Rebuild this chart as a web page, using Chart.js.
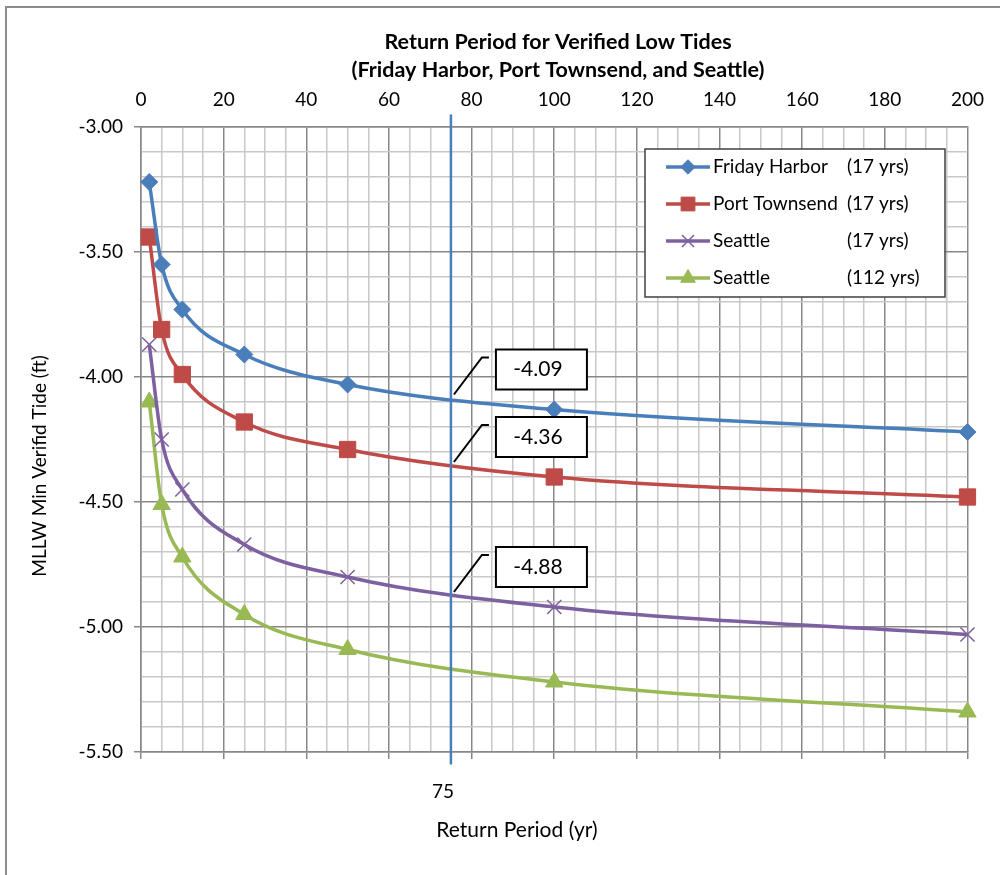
<!DOCTYPE html>
<html><head><meta charset="utf-8">
<script src="https://cdn.jsdelivr.net/npm/chart.js@4.4.0/dist/chart.umd.min.js"></script>
<style>html,body{margin:0;padding:0;background:#fff;} #wrap{width:1000px;height:875px;position:relative;}</style>
</head><body><div id="wrap"><canvas id="c" width="1000" height="875"></canvas></div>
<script>
const returnPeriods = [2, 5, 10, 25, 50, 100, 200];
const fridayHarbor = [-3.22, -3.55, -3.73, -3.91, -4.03, -4.13, -4.22];
const portTownsend = [-3.44, -3.81, -3.99, -4.18, -4.29, -4.40, -4.48];
const seattle17 = [-3.87, -4.25, -4.45, -4.67, -4.80, -4.92, -5.03];
const seattle112 = [-4.10, -4.51, -4.72, -4.95, -5.09, -5.22, -5.34];
const seriesNames = ['Friday Harbor', 'Port Townsend', 'Seattle', 'Seattle'];
const seriesYears = ['(17 yrs)', '(17 yrs)', '(17 yrs)', '(112 yrs)'];
const markerYear = 75;
const markerLineY = [-2.95, -5.55];
const calloutValues = [-4.09, -4.36, -4.88];
const titleLines = ['Return Period for Verified Low Tides', '(Friday Harbor, Port Townsend, and Seattle)'];
const xAxisTitle = 'Return Period (yr)';
const yAxisTitle = 'MLLW Min Verifid Tide (ft)';

const FONT = 'Lato, "Noto Sans", sans-serif';
const colors = ['#4A7EBB', '#BE4B48', '#7D60A0', '#98B954'];
const styles = ['rectRot', 'rect', 'crossRot', 'triangle'];
const radii = [8.5, 11.5, 10, 10];
const seriesData = [fridayHarbor, portTownsend, seattle17, seattle112];

const datasets = seriesData.map((vals, i) => ({
  label: seriesNames[i] + ' ' + seriesYears[i],
  data: returnPeriods.map((x, j) => ({x: x, y: vals[j]})),
  borderColor: colors[i],
  backgroundColor: colors[i],
  pointBackgroundColor: colors[i],
  pointBorderColor: colors[i],
  pointStyle: styles[i],
  pointRadius: radii[i],
  pointHoverRadius: radii[i],
  pointBorderWidth: styles[i] === 'crossRot' ? 1.5 : 1,
  borderWidth: 3.5,
  cubicInterpolationMode: 'monotone',
  clip: false,
  order: 1 + i
}));
datasets.unshift({
  label: 'marker',
  data: markerLineY.map(y => ({x: markerYear, y: y})),
  borderColor: '#4A7EBB',
  borderWidth: 2.5,
  pointRadius: 0,
  clip: false,
  order: 0
});

const isMajorX = v => Math.abs(v % 20) < 1e-6;
const isMajorY = v => Math.abs(v * 2 - Math.round(v * 2)) < 1e-6;

const decor = {
  id: 'decor',
  beforeDraw(chart) {
    const ctx = chart.ctx;
    ctx.save();
    ctx.fillStyle = '#fff';
    ctx.fillRect(0, 0, chart.width, chart.height);
    ctx.strokeStyle = '#8c8c8c';
    ctx.lineWidth = 2;
    ctx.beginPath();
    ctx.moveTo(6, 876); ctx.lineTo(6, 7); ctx.lineTo(1001, 7);
    ctx.stroke();
    ctx.restore();
  },
  afterDatasetsDraw(chart) {
    const ctx = chart.ctx;
    const xs = chart.scales.x, ys = chart.scales.y;
    ctx.save();
    // callouts
    calloutValues.forEach(v => {
      const px = xs.getPixelForValue(markerYear);
      const py = ys.getPixelForValue(v);
      ctx.strokeStyle = '#000';
      ctx.lineWidth = 2;
      ctx.beginPath();
      ctx.moveTo(px + 3, py - 5);
      ctx.lineTo(px + 31, py - 42);
      ctx.lineTo(px + 38, py - 42);
      ctx.stroke();
      ctx.fillStyle = '#fff';
      ctx.fillRect(px + 45, py - 50, 91, 40);
      ctx.strokeRect(px + 45, py - 50, 91, 40);
      ctx.fillStyle = '#000';
      ctx.font = '21px ' + FONT;
      ctx.textAlign = 'center';
      ctx.textBaseline = 'middle';
      ctx.fillText(v.toFixed(2), px + 87, py - 30);
    });
    // legend
    const lx = 645, ly = 149, lw = 300, lh = 148;
    ctx.fillStyle = '#fff';
    ctx.fillRect(lx, ly, lw, lh);
    ctx.strokeStyle = '#404040';
    ctx.lineWidth = 1.5;
    ctx.strokeRect(lx, ly, lw, lh);
    ctx.font = '19px ' + FONT;
    ctx.textBaseline = 'middle';
    ctx.textAlign = 'left';
    seriesNames.forEach((name, i) => {
      const cy = ly + 18 + i * 37;
      ctx.strokeStyle = colors[i];
      ctx.lineWidth = 3.5;
      ctx.beginPath();
      ctx.moveTo(lx + 21, cy); ctx.lineTo(lx + 65, cy);
      ctx.stroke();
      ctx.fillStyle = colors[i];
      ctx.strokeStyle = colors[i];
      ctx.lineWidth = styles[i] === 'crossRot' ? 1.5 : 1;
      Chart.helpers.drawPoint(ctx, {pointStyle: styles[i], radius: radii[i] * 0.85, rotation: 0, borderWidth: ctx.lineWidth}, lx + 43, cy);
      ctx.fillStyle = '#000';
      ctx.fillText(name, lx + 68, cy);
      const nameEnd = lx + 68 + ctx.measureText(name + ' ').width;
      ctx.fillText(seriesYears[i], Math.max(lx + 202, nameEnd), cy);
    });
    ctx.restore();
  },
  afterDraw(chart) {
    const ctx = chart.ctx;
    const xs = chart.scales.x;
    ctx.save();
    ctx.fillStyle = '#000';
    ctx.textAlign = 'center';
    ctx.textBaseline = 'middle';
    ctx.font = 'bold 21.5px ' + FONT;
    ctx.fillText(titleLines[0], 558, 42);
    ctx.fillText(titleLines[1], 558, 70);
    ctx.font = '19px ' + FONT;
    ctx.fillText(String(markerYear), xs.getPixelForValue(markerYear) - 8, 792);
    ctx.font = '21px ' + FONT;
    ctx.fillText(xAxisTitle, 517, 830);
    ctx.font = '19px ' + FONT;
    ctx.translate(40, 466);
    ctx.rotate(-Math.PI / 2);
    ctx.fillText(yAxisTitle, 0, 0);
    ctx.restore();
  }
};

new Chart(document.getElementById('c'), {
  type: 'line',
  data: {datasets},
  plugins: [decor],
  options: {
    responsive: false,
    animation: false,
    events: [],
    layout: {padding: {left: 0, right: 30, top: 0, bottom: 0}},
    plugins: {legend: {display: false}, tooltip: {enabled: false}, title: {display: false}},
    scales: {
      x: {
        type: 'linear', position: 'top', min: 0, max: 200,
        afterFit: s => { s.height = 127; },
        ticks: {stepSize: 5, autoSkip: false, maxRotation: 0, padding: 16, color: '#000',
          font: {family: FONT, size: 19},
          callback: v => isMajorX(v) ? String(v) : ''},
        grid: {drawTicks: false, lineWidth: 1.5,
          color: c => isMajorX(c.tick.value) ? '#888888' : '#c8c8c8'},
        border: {color: '#888888', width: 1.5}
      },
      x2: {
        type: 'linear', position: 'bottom', min: 0, max: 200,
        afterFit: s => { s.height = 123; },
        ticks: {stepSize: 20, callback: () => '', padding: 0},
        grid: {drawOnChartArea: false, tickLength: 7, tickColor: '#888888', lineWidth: 1.5},
        border: {color: '#888888', width: 1.5}
      },
      y: {
        type: 'linear', min: -5.5, max: -3,
        afterFit: s => { s.width = 141; },
        ticks: {stepSize: 0.1, autoSkip: false, padding: 11, color: '#000',
          font: {family: FONT, size: 19},
          callback: v => isMajorY(v) ? Number(v).toFixed(2) : ''},
        grid: {tickLength: 7, lineWidth: 1.5,
          color: c => isMajorY(c.tick.value) ? '#888888' : '#c8c8c8',
          tickColor: c => isMajorY(c.tick.value) ? '#888888' : 'rgba(0,0,0,0)'},
        border: {color: '#888888', width: 1.5}
      }
    }
  }
});
</script>
</body></html>
